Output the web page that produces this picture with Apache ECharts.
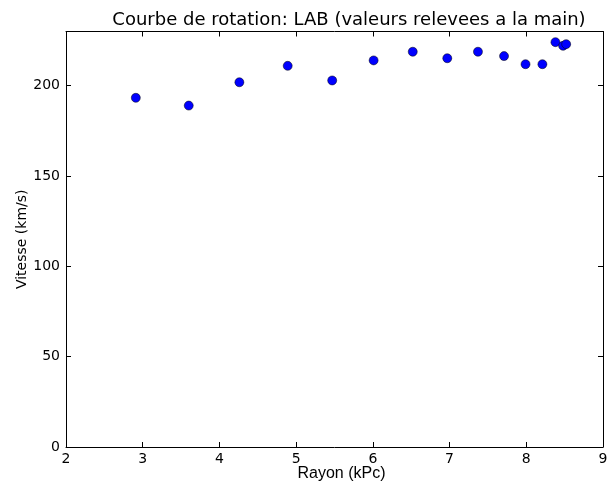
<!DOCTYPE html>
<html>
<head>
<meta charset="utf-8">
<script src="https://cdn.jsdelivr.net/npm/echarts@6/dist/echarts.min.js"></script>
<style>html,body{margin:0;padding:0;background:#fff}#c{width:614px;height:485px}</style>
</head>
<body>
<div id="c"></div>
<script>
const titleText = "Courbe de rotation: LAB (valeurs relevees a la main)";
const xLabel = "Rayon (kPc)";
const yLabel = "Vitesse (km/s)";
const rayon = [2.91, 3.60, 4.26, 4.89, 5.47, 6.01, 6.52, 6.97, 7.37, 7.71, 7.99, 8.21, 8.38, 8.48, 8.52];
const vitesse = [193.3, 189.0, 201.9, 211.0, 202.9, 214.0, 218.8, 215.2, 218.8, 216.4, 211.9, 211.9, 224.1, 222.1, 223.0];
const xTicks = {min: 2, max: 9, interval: 1};
const yTicks = {min: 0, max: 230, interval: 50};

const data = rayon.map((r, i) => [r, vitesse[i]]);
const font = "DejaVu Sans";
const lineStyle = {color: '#000', width: 1};
const tick = {show: true, inside: true, length: 5, lineStyle: {color: '#000', width: 1}};

const chart = echarts.init(document.getElementById('c'), null, {renderer: 'canvas'});
chart.setOption({
  animation: false,
  backgroundColor: '#fff',
  title: {
    text: titleText, left: 344, top: 6, textAlign: 'center',
    textStyle: {fontFamily: font, fontSize: 18, fontWeight: 'normal', color: '#000'}
  },
  grid: {left: 66, top: 31.5, right: 11, bottom: 38, containLabel: false, outerBoundsMode: 'none'},
  xAxis: [{
    type: 'value', min: xTicks.min, max: xTicks.max, interval: xTicks.interval,
    name: xLabel, nameLocation: 'middle', nameGap: 19, nameMoveOverlap: false,
    nameTextStyle: {fontFamily: 'Liberation Sans', fontSize: 16, color: '#000', verticalAlign: 'top', padding: [0, 0, 0, 14]},
    axisLine: {show: true, onZero: false, lineStyle},
    axisTick: tick, splitLine: {show: false},
    axisLabel: {fontFamily: font, fontSize: 14, color: '#000', margin: 5}
  }, {
    type: 'value', position: 'top', min: xTicks.min, max: xTicks.max, interval: xTicks.interval,
    axisLine: {show: true, onZero: false, lineStyle},
    axisTick: tick, splitLine: {show: false}, axisLabel: {show: false}
  }],
  yAxis: [{
    type: 'value', min: yTicks.min, max: yTicks.max, interval: yTicks.interval,
    name: yLabel, nameLocation: 'middle', nameGap: 37, nameRotate: 90, nameMoveOverlap: false,
    nameTextStyle: {fontFamily: font, fontSize: 14, color: '#000'},
    axisLine: {show: true, onZero: false, lineStyle},
    axisTick: tick, splitLine: {show: false},
    axisLabel: {fontFamily: font, fontSize: 14, color: '#000', margin: 6, showMaxLabel: false}
  }, {
    type: 'value', position: 'right', min: yTicks.min, max: yTicks.max, interval: yTicks.interval,
    axisLine: {show: true, onZero: false, lineStyle},
    axisTick: tick, splitLine: {show: false}, axisLabel: {show: false}
  }],
  series: [{
    type: 'scatter', xAxisIndex: 0, yAxisIndex: 0,
    data: data, symbol: 'circle', symbolSize: 9,
    itemStyle: {color: '#0000ff', borderColor: '#000', borderWidth: 0.5, opacity: 1}
  }]
});
</script>
</body>
</html>
